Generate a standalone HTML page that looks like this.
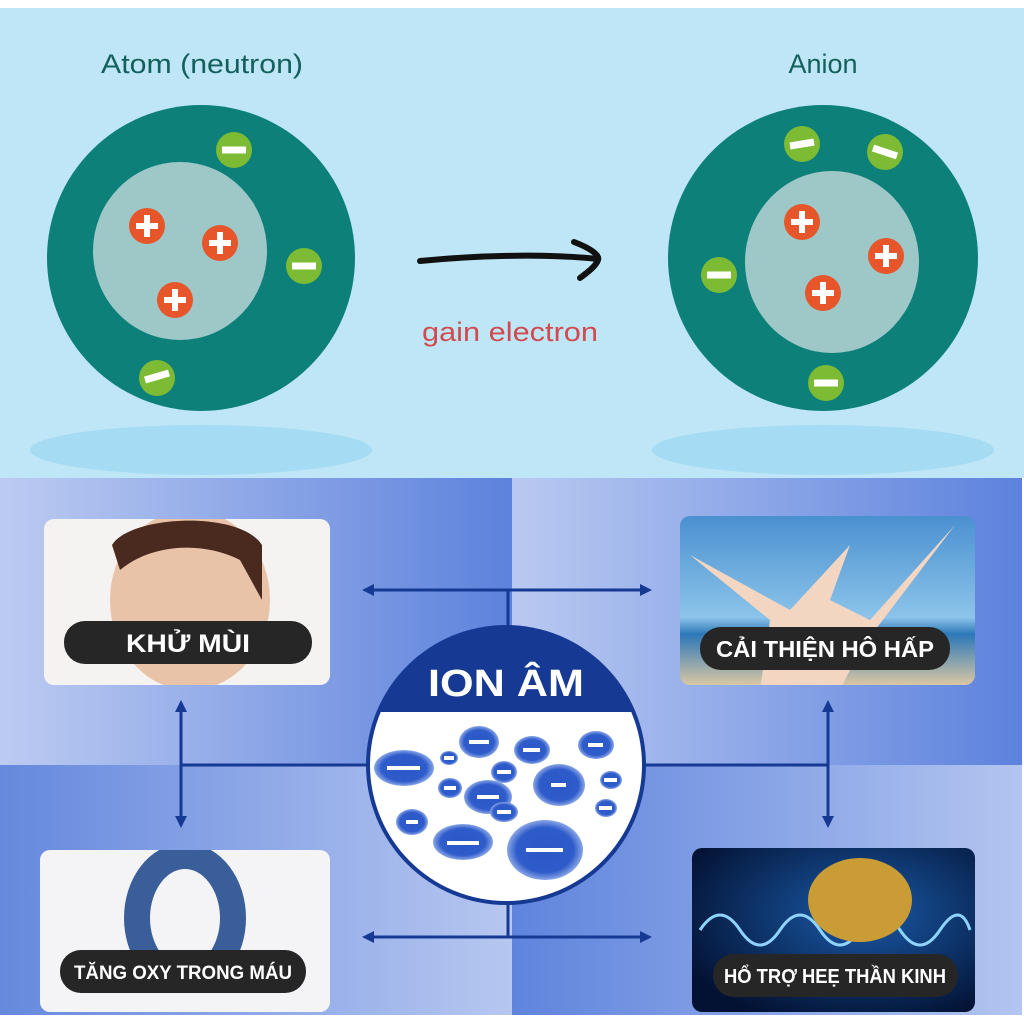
<!DOCTYPE html>
<html><head><meta charset="utf-8"><style>
html,body{margin:0;padding:0;background:#fff}
svg{display:block}
text{font-family:"Liberation Sans",sans-serif}
</style></head><body>
<svg width="1024" height="1024" viewBox="0 0 1024 1024" xmlns="http://www.w3.org/2000/svg">
<defs>
<linearGradient id="gTL" x1="0" x2="1"><stop offset="0" stop-color="#bccbf1"/><stop offset="1" stop-color="#5d82dd"/></linearGradient>
<linearGradient id="gTR" x1="0" x2="1"><stop offset="0" stop-color="#b9c9f1"/><stop offset="1" stop-color="#5d82dd"/></linearGradient>
<linearGradient id="gBL" x1="0" x2="1"><stop offset="0" stop-color="#6689de"/><stop offset="1" stop-color="#b6c7f0"/></linearGradient>
<linearGradient id="gBR" x1="0" x2="1"><stop offset="0" stop-color="#5f84dd"/><stop offset="1" stop-color="#b3c5f0"/></linearGradient>
<radialGradient id="ion" cx="0.5" cy="0.5" r="0.5"><stop offset="0" stop-color="#2a56c6"/><stop offset="0.75" stop-color="#2f5ccb"/><stop offset="1" stop-color="#8aa6e6"/></radialGradient>
<linearGradient id="sky" x1="0" y1="0" x2="0" y2="1"><stop offset="0" stop-color="#4a90d0"/><stop offset="0.6" stop-color="#8cc4ea"/><stop offset="0.7" stop-color="#2c78b8"/><stop offset="1" stop-color="#d9c7a4"/></linearGradient>
<radialGradient id="brain" cx="0.6" cy="0.4" r="0.7"><stop offset="0" stop-color="#1a5aa8"/><stop offset="1" stop-color="#031233"/></radialGradient>
<clipPath id="circ"><circle cx="506" cy="765" r="136"/></clipPath>
<clipPath id="c1"><rect x="44" y="519" width="286" height="166" rx="10"/></clipPath>
<clipPath id="c2"><rect x="680" y="516" width="295" height="169" rx="10"/></clipPath>
<clipPath id="c3"><rect x="40" y="850" width="290" height="162" rx="10"/></clipPath>
<clipPath id="c4"><rect x="692" y="848" width="283" height="164" rx="10"/></clipPath>
</defs>
<rect x="0" y="8" width="1024" height="470" fill="#bee6f7"/>
<!-- top -->
<text x="202" y="73" font-size="27" fill="#13605c" text-anchor="middle" textLength="202" lengthAdjust="spacingAndGlyphs">Atom (neutron)</text>
<text x="823" y="73" font-size="27" fill="#13605c" text-anchor="middle">Anion</text>
<ellipse cx="201" cy="450" rx="171" ry="25" fill="#a6dcf3"/>
<ellipse cx="823" cy="450" rx="171" ry="25" fill="#a6dcf3"/>
<ellipse cx="201" cy="258" rx="154" ry="153" fill="#0e807a"/>
<ellipse cx="180" cy="251" rx="87" ry="89" fill="#9ec8c8"/>
<ellipse cx="823" cy="258" rx="155" ry="153" fill="#0e807a"/>
<ellipse cx="832" cy="262" rx="87" ry="91" fill="#9ec8c8"/>
<g fill="#e6562a">
<circle cx="147" cy="226" r="18"/><circle cx="220" cy="243" r="18"/><circle cx="175" cy="300" r="18"/>
<circle cx="802" cy="222" r="18"/><circle cx="886" cy="256" r="18"/><circle cx="823" cy="293" r="18"/>
</g>
<g stroke="#fff" stroke-width="6">
<path d="M136 226h22M147 215v22M209 243h22M220 232v22M164 300h22M175 289v22M791 222h22M802 211v22M875 256h22M886 245v22M812 293h22M823 282v22"/>
</g>
<g fill="#7cbb33">
<circle cx="234" cy="150" r="18"/><circle cx="304" cy="266" r="18"/><circle cx="157" cy="378" r="18"/>
<circle cx="802" cy="144" r="18"/><circle cx="885" cy="152" r="18"/><circle cx="719" cy="275" r="18"/><circle cx="826" cy="383" r="18"/>
</g>
<g stroke="#fff" stroke-width="7">
<path d="M222 150h24M292 266h24M145 380l24-7M790 146l24-4M873 148l24 8M707 275h24M814 383h24"/>
</g>
<path d="M420 261 C470 256 540 253 598 259" stroke="#111" stroke-width="6" fill="none" stroke-linecap="round"/>
<path d="M574 242 C590 248 600 255 598 260 C596 266 588 272 580 278" stroke="#111" stroke-width="6" fill="none" stroke-linecap="round"/>
<text x="510" y="341" font-size="27" fill="#d24a4e" text-anchor="middle" textLength="176" lengthAdjust="spacingAndGlyphs">gain electron</text>
<!-- bottom quadrants -->
<rect x="0" y="478" width="512" height="287" fill="url(#gTL)"/>
<rect x="512" y="478" width="510" height="287" fill="url(#gTR)"/>
<rect x="0" y="765" width="512" height="250" fill="url(#gBL)"/>
<rect x="512" y="765" width="510" height="250" fill="url(#gBR)"/>
<!-- connectors -->
<g stroke="#163a94" stroke-width="3" fill="none">
<path d="M368 590H646M508 590V630M368 937H646M508 905V937"/>
<path d="M181 708V822M181 765H370M828 708V822M642 765H828"/>
</g>
<g fill="#163a94">
<path d="M362 590l12-6v12zM652 590l-12-6v12zM362 937l12-6v12zM652 937l-12-6v12z"/>
<path d="M181 700l-6 12h12zM181 828l-6-12h12zM828 700l-6 12h12zM828 828l-6-12h12z"/>
</g>
<!-- cards -->
<rect x="44" y="519" width="286" height="166" rx="10" fill="#f5f3f1"/>
<g clip-path="url(#c1)">
<ellipse cx="190" cy="600" rx="80" ry="90" fill="#e8c3a8"/>
<path d="M112 545 C130 515 240 510 262 545 L262 600 L240 560 C200 540 150 545 120 570Z" fill="#4a2a1f"/>
</g>
<rect x="64" y="621" width="248" height="43" rx="21" fill="#262626"/>
<text x="188" y="652" font-size="25" font-weight="bold" fill="#fff" text-anchor="middle" textLength="124" lengthAdjust="spacingAndGlyphs">KHỬ MÙI</text>

<rect x="680" y="516" width="295" height="169" rx="10" fill="url(#sky)"/>
<g clip-path="url(#c2)">
<path d="M690 555 L790 610 L850 545 L830 600 L870 620 L955 525 L860 650 L840 690 L760 690 L770 620 Z" fill="#f3d6c1"/>
</g>
<rect x="700" y="627" width="250" height="43" rx="21" fill="#262626"/>
<text x="825" y="657" font-size="23" font-weight="bold" fill="#fff" text-anchor="middle" textLength="218" lengthAdjust="spacingAndGlyphs">CẢI THIỆN HÔ HẤP</text>

<rect x="40" y="850" width="290" height="162" rx="10" fill="#f4f4f6"/>
<g clip-path="url(#c3)">
<ellipse cx="185" cy="918" rx="48" ry="62" fill="none" stroke="#3a5e9a" stroke-width="26"/>
</g>
<rect x="60" y="950" width="246" height="43" rx="21" fill="#262626"/>
<text x="183" y="979" font-size="19" font-weight="bold" fill="#fff" text-anchor="middle" textLength="218" lengthAdjust="spacingAndGlyphs">TĂNG OXY TRONG MÁU</text>

<rect x="692" y="848" width="283" height="164" rx="10" fill="url(#brain)"/>
<g clip-path="url(#c4)">
<path d="M700 930 q20 -30 40 0 t40 0 t40 0 t40 0 t40 0 t40 0 t30 0" stroke="#8fd3ff" stroke-width="3" fill="none"/>
<ellipse cx="860" cy="900" rx="52" ry="42" fill="#c99c35"/>
</g>
<rect x="713" y="954" width="245" height="43" rx="21" fill="#262626"/>
<text x="835" y="983" font-size="20" font-weight="bold" fill="#fff" text-anchor="middle" textLength="222" lengthAdjust="spacingAndGlyphs">HỔ TRỢ HEẸ THẦN KINH</text>
<!-- ION circle -->
<circle cx="506" cy="765" r="140" fill="#163a94"/>
<g clip-path="url(#circ)">
<rect x="360" y="712" width="300" height="200" fill="#fff"/>
</g>
<text x="506" y="696" font-size="38" font-weight="bold" fill="#fff" text-anchor="middle" textLength="156" lengthAdjust="spacingAndGlyphs">ION ÂM</text>
<g fill="url(#ion)">
<ellipse cx="404" cy="768" rx="30" ry="18"/><ellipse cx="479" cy="742" rx="20" ry="16"/><ellipse cx="532" cy="750" rx="18" ry="14"/><ellipse cx="596" cy="745" rx="18" ry="14"/>
<ellipse cx="449" cy="758" rx="9" ry="7"/><ellipse cx="504" cy="772" rx="13" ry="11"/><ellipse cx="559" cy="785" rx="26" ry="21"/><ellipse cx="611" cy="780" rx="11" ry="9"/>
<ellipse cx="450" cy="788" rx="12" ry="10"/><ellipse cx="488" cy="797" rx="24" ry="17"/><ellipse cx="504" cy="812" rx="14" ry="10"/><ellipse cx="606" cy="808" rx="11" ry="9"/>
<ellipse cx="412" cy="822" rx="16" ry="13"/><ellipse cx="463" cy="842" rx="30" ry="18"/><ellipse cx="545" cy="850" rx="38" ry="30"/>
</g>
<g stroke="#fff" stroke-width="4">
<path d="M387 768h33M469 742h20M523 750h17M588 745h15M444 758h10M497 772h14M551 785h15M604 780h13M444 788h12M477 797h22M497 812h14M599 808h13M406 822h12M447 843h32M526 850h37"/>
</g>
</svg>
</body></html>
